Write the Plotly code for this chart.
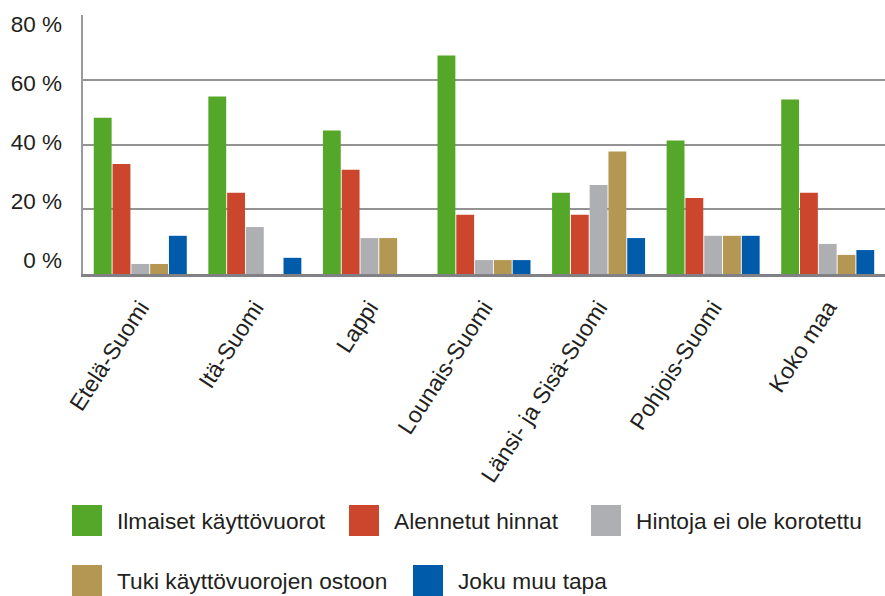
import plotly.graph_objects as go

categories = ["Etelä-Suomi", "Itä-Suomi", "Lappi", "Lounais-Suomi",
              "Länsi- ja Sisä-Suomi", "Pohjois-Suomi", "Koko maa"]
series_names = ["Ilmaiset käyttövuorot", "Alennetut hinnat", "Hintoja ei ole korotettu",
                "Tuki käyttövuorojen ostoon", "Joku muu tapa"]
ilmaiset = [48.3, 54.8, 44.3, 67.5, 25.1, 41.2, 53.9]
alennetut = [34.0, 25.1, 32.2, 18.3, 18.3, 23.5, 25.1]
hintoja = [3.1, 14.5, 11.1, 4.3, 27.5, 11.8, 9.3]
tuki = [3.1, 0.0, 11.1, 4.3, 37.8, 11.8, 5.9]
joku = [11.8, 5.0, 0.0, 4.3, 11.1, 11.8, 7.4]
series_values = [ilmaiset, alennetut, hintoja, tuki, joku]
colors = ["#54A728", "#CC452D", "#AEAFB2", "#B49752", "#005BAA"]
y_tick_values = [0, 20, 40, 60, 80]
y_tick_labels = ["0 %", "20 %", "40 %", "60 %", "80 %"]

FONT = "Liberation Sans, Arial, Helvetica, sans-serif"
TXT = "#231f20"

W, H = 885, 596
ML, MR, MT, MB = 83, 0, 15, 322
PW, PH = W - ML - MR, H - MT - MB

fig = go.Figure()
for name, vals, col in zip(series_names, series_values, colors):
    fig.add_trace(go.Bar(x=categories, y=vals, name=name, marker_color=col,
                         marker_line_width=0, showlegend=False))

# invisible helper trace carrying the (offset) tick-label axis
fig.add_trace(go.Scatter(x=[categories[0]], y=[0], yaxis="y2", mode="markers",
                         marker=dict(opacity=0), showlegend=False, hoverinfo="skip"))

fig.update_layout(
    width=W, height=H,
    margin=dict(l=ML, r=MR, t=MT, b=MB, autoexpand=False),
    paper_bgcolor="white", plot_bgcolor="white",
    barmode="group", bargap=0.18, bargroupgap=0.05,
    font=dict(family=FONT, color=TXT, size=22),
    xaxis=dict(tickangle=-57, tickfont=dict(size=23, color=TXT), showline=True,
               linecolor="#808085", linewidth=3, ticks="", showgrid=False,
               ticklabelstandoff=8,
               automargin=False, range=[-0.5, 6.5]),
    yaxis=dict(range=[0, 80], tickvals=y_tick_values, showticklabels=False,
               showgrid=True, gridcolor="#939393", gridwidth=1.8, zeroline=False,
               showline=True, linecolor="#9a9a9a", linewidth=2, mirror=False,
               automargin=False),
    yaxis2=dict(overlaying="y", side="left", range=[-4.77, 83.23],
                tickvals=y_tick_values, ticktext=y_tick_labels,
                showgrid=False, zeroline=False, showline=False, ticks="",
                ticklabelstandoff=20, tickfont=dict(size=22.5, color=TXT),
                automargin=False),
)

# legend drawn as squares + text (two rows as in the reference)
leg_box_x = [72, 349, 591, 72, 413]
leg_row_y = [520.5, 580.5]
leg_rows = [0, 0, 0, 1, 1]
box = 30


def px2paper_x(px):
    return (px - ML) / PW


def px2paper_y(py):
    return (H - MB - py) / PH


for name, col, bx, r in zip(series_names, colors, leg_box_x, leg_rows):
    cy = leg_row_y[r]
    fig.add_shape(type="rect", xref="paper", yref="paper",
                  x0=px2paper_x(bx), x1=px2paper_x(bx + box),
                  y0=px2paper_y(cy + box / 2 + 0.5), y1=px2paper_y(cy - box / 2 - 0.5),
                  fillcolor=col, line=dict(width=0))
    fig.add_annotation(xref="paper", yref="paper", x=px2paper_x(bx + box + 13),
                       y=px2paper_y(cy), text=name, showarrow=False,
                       xanchor="left", yanchor="middle",
                       font=dict(size=22.7, color=TXT, family=FONT))

fig.write_html("out.html", config={"displayModeBar": False})
